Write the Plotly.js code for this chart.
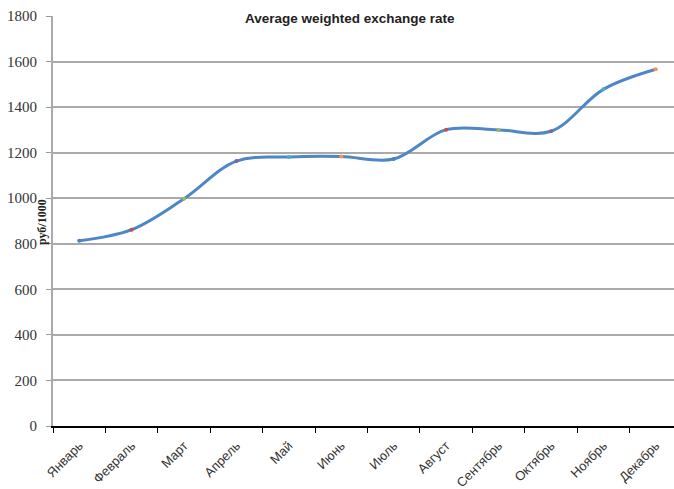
<!DOCTYPE html>
<html><head><meta charset="utf-8">
<script src="https://cdn.plot.ly/plotly-3.0.1.min.js"></script>
<style>html,body{margin:0;padding:0;overflow:hidden;background:#fff;width:674px;height:489px}#c{width:690px;height:489px}</style>
</head><body><div id="c"></div>
<script>
const months = ['Январь','Февраль','Март','Апрель','Май','Июнь','Июль','Август','Сентябрь','Октябрь','Ноябрь','Декабрь'];
const rate = [813, 862, 998, 1163, 1181, 1183, 1172, 1301, 1300, 1294, 1478, 1566];
const yTicks = [0,200,400,600,800,1000,1200,1400,1600,1800];
const pointColors = ['#4F81BD','#C0504D','#9BBB59','#8064A2','#4BACC6','#F79646','#4F81BD','#C0504D','#9BBB59','#8064A2','#4BACC6','#F79646'];
const titleText = 'Average weighted exchange rate';
const yTitle = 'руб/1000';

const trace = {
  x: months, y: rate, type: 'scatter', mode: 'lines+markers',
  line: {color: '#4F86C6', width: 3, shape: 'spline', smoothing: 1},
  marker: {color: pointColors, size: 4},
  hoverinfo: 'x+y'
};
const layout = {
  width: 690, height: 489,
  margin: {l: 53, r: 8, t: 16, b: 63},
  paper_bgcolor: '#fff', plot_bgcolor: '#fff',
  showlegend: false,
  xaxis: {
    type: 'category', range: [-0.5, 11.5], tickangle: -45,
    tickson: 'boundaries', ticks: 'outside', ticklen: 5, tickcolor: '#000',
    showline: true, linecolor: '#000', linewidth: 2, showgrid: false, zeroline: false,
    ticklabelstandoff: 5,
    tickfont: {family: 'Liberation Sans, Arial, sans-serif', size: 13, color: '#333'}
  },
  yaxis: {
    range: [0, 1800], tickvals: yTicks, ticks: 'outside', ticklen: 5, tickcolor: '#999',
    showline: true, linecolor: '#aaa', linewidth: 2,
    showgrid: true, gridcolor: '#aaa', gridwidth: 2, zeroline: false,
    ticklabelstandoff: 6,
    tickfont: {family: 'Liberation Serif, Times New Roman, serif', size: 15, color: '#333'}
  },
  annotations: [
    {text: '<b>' + titleText + '</b>', xref: 'paper', yref: 'paper', x: (350-53)/629, y: 1 - (18-16)/410,
     xanchor: 'center', yanchor: 'middle', showarrow: false,
     font: {family: 'Liberation Sans, Arial, sans-serif', size: 13.5, color: '#222'}},
    {text: '<b>' + yTitle + '</b>', xref: 'paper', yref: 'paper', x: (42-53)/629, y: (426-222)/410,
     xanchor: 'center', yanchor: 'middle', showarrow: false, textangle: -90,
     font: {family: 'Liberation Serif, Times New Roman, serif', size: 12, color: '#222'}}
  ]
};
Plotly.newPlot('c', [trace], layout, {displayModeBar: false, staticPlot: true});
</script></body></html>
